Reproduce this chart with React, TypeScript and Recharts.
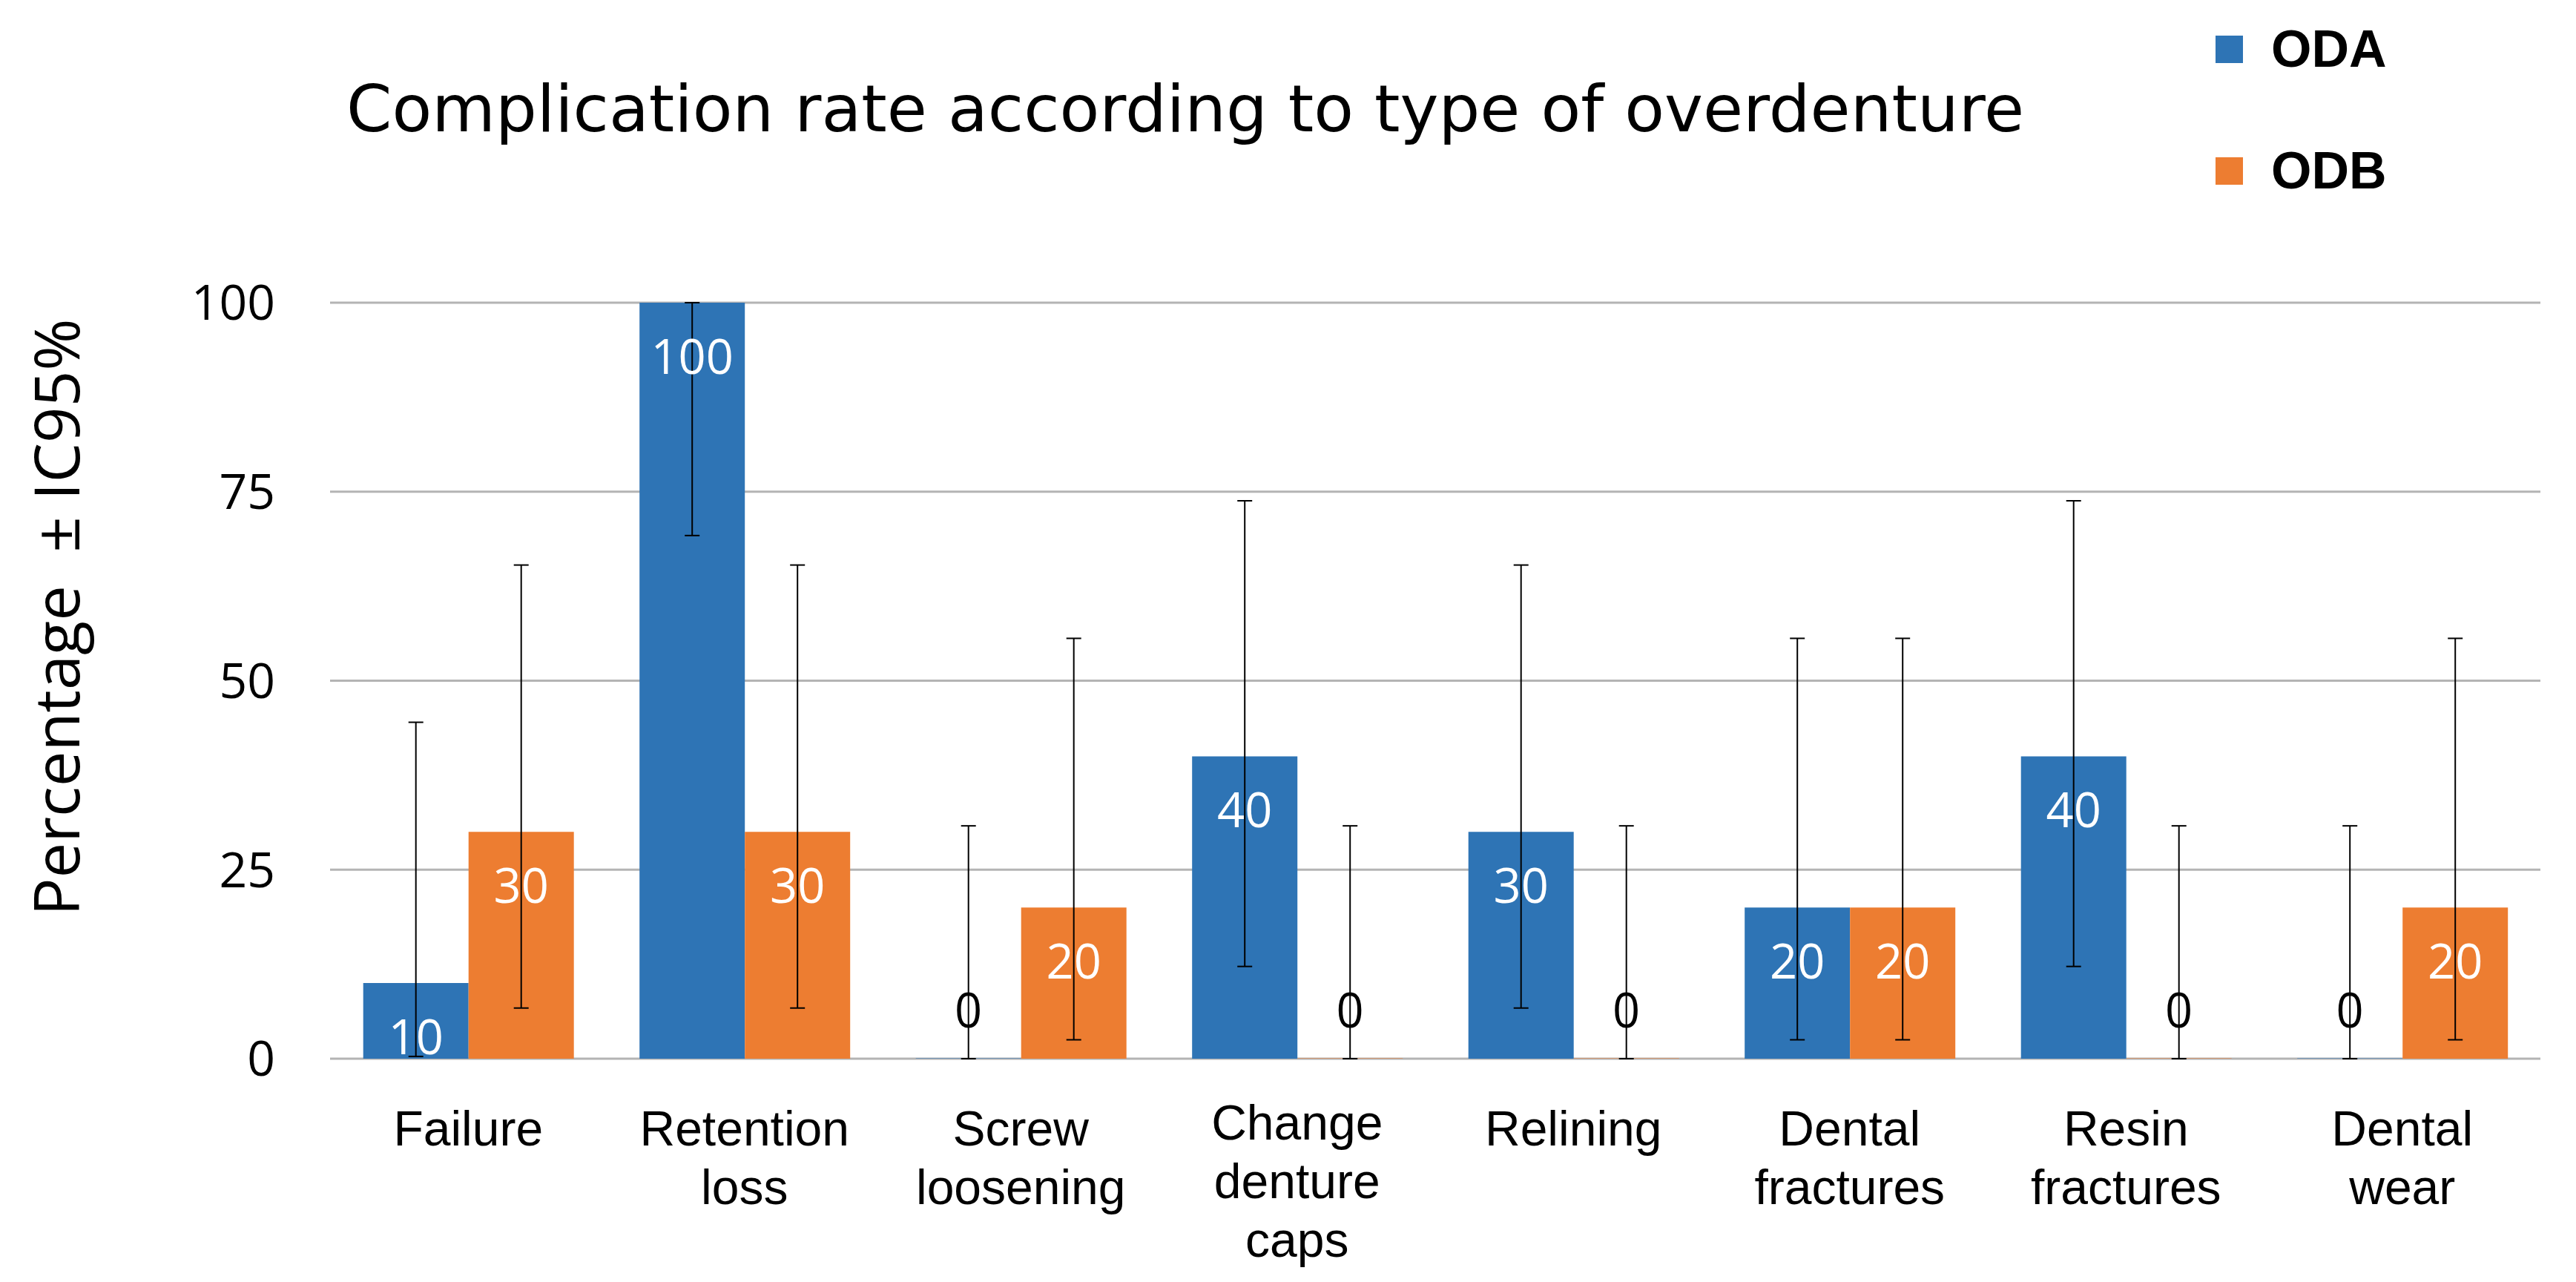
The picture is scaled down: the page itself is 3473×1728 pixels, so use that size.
import { Bar, BarChart, CartesianGrid, ErrorBar, LabelList, Legend, XAxis, YAxis } from "recharts";

const categories = [
  "Failure",
  "Retention\nloss",
  "Screw\nloosening",
  "Change\ndenture\ncaps",
  "Relining",
  "Dental\nfractures",
  "Resin\nfractures",
  "Dental\nwear",
];

const odaValues = [10, 100, 0, 40, 30, 20, 40, 0];
const odaLow = [0.3, 69.2, 0, 12.2, 6.7, 2.5, 12.2, 0];
const odaHigh = [44.5, 100, 30.8, 73.8, 65.3, 55.6, 73.8, 30.8];

const odbValues = [30, 30, 20, 0, 0, 20, 0, 20];
const odbLow = [6.7, 6.7, 2.5, 0, 0, 2.5, 0, 2.5];
const odbHigh = [65.3, 65.3, 55.6, 30.8, 30.8, 55.6, 30.8, 55.6];

const yTicks = [0, 25, 50, 75, 100];

const ODA_COLOR = "#2E74B5";
const ODB_COLOR = "#ED7D31";
const SANS = "'Open Sans', 'Noto Sans', sans-serif";
const ARIAL = "'Liberation Sans', Arial, sans-serif";

const data = categories.map((name, i) => ({
  name,
  oda: odaValues[i],
  odb: odbValues[i],
  odaErr: [odaValues[i] - odaLow[i], odaHigh[i] - odaValues[i]],
  odbErr: [odbValues[i] - odbLow[i], odbHigh[i] - odbValues[i]],
}));

const legendItems = [
  { label: "ODA", color: ODA_COLOR },
  { label: "ODB", color: ODB_COLOR },
];

interface TickProps {
  x?: number;
  y?: number;
  payload?: { value: string };
}

function CategoryTick({ x = 0, y = 0, payload }: TickProps) {
  const lines = (payload?.value ?? "").split("\n");
  const first = y + 117 - (lines.length > 2 ? 8 : 0);
  return (
    <text x={x} y={first} textAnchor="middle" fontFamily={ARIAL} fontSize={66} fill="#000">
      {lines.map((line, i) => (
        <tspan key={i} x={x} dy={i === 0 ? 0 : 79}>
          {line}
        </tspan>
      ))}
    </text>
  );
}

interface Box {
  x?: number | string;
  y?: number | string;
  width?: number | string;
  height?: number | string;
}

interface ValueLabelProps extends Box {
  value?: number | string;
  viewBox?: Box;
}

function ValueLabel(props: ValueLabelProps) {
  const vb = props.viewBox ?? {};
  const x = Number(props.x ?? vb.x ?? 0);
  const width = Number(props.width ?? vb.width ?? 0);
  const y = Number(props.y ?? vb.y ?? 0);
  const height = Number(props.height ?? vb.height ?? 0);
  const zero = Number(props.value) === 0;
  // zero bars: label sits above the baseline, in black
  const top = Math.min(y, y + height);
  const bottom = Math.max(y, y + height);
  return (
    <text
      x={x + width / 2}
      y={zero ? bottom - 67 : top + 71}
      textAnchor="middle"
      dominantBaseline="central"
      fontFamily={SANS}
      fontSize={65}
      fill={zero ? "#000" : "#fff"}
    >
      {String(props.value)}
    </text>
  );
}

function LegendBox() {
  return (
    <div>
      {legendItems.map((item) => (
        <div key={item.label} style={{ display: "flex", alignItems: "center", height: 50, marginBottom: 114 }}>
          <span style={{ width: 37, height: 37, background: item.color, display: "inline-block" }} />
          <span
            style={{
              marginLeft: 38,
              fontFamily: ARIAL,
              fontWeight: "bold",
              fontSize: 70,
              lineHeight: "50px",
              color: "#000",
            }}
          >
            {item.label}
          </span>
        </div>
      ))}
    </div>
  );
}

const zeroPoint = (value: unknown) => (Number(value) === 0 ? 0.5 : 0);

export default function App() {
  return (
    <div style={{ position: "absolute", left: 0, top: 0, background: "#fff" }}>
      <BarChart
        width={3473}
        height={1728}
        data={data}
        margin={{ top: 408, right: 48, left: 0, bottom: 0 }}
        barCategoryGap="12%"
        barGap={0}
      >
        <text
          x={467}
          y={177}
          fontFamily="'DejaVu Sans', Verdana, sans-serif"
          fontSize={88}
          fill="#000"
          textLength={2262}
          lengthAdjust="spacingAndGlyphs"
        >
          Complication rate according to type of overdenture
        </text>
        <text
          transform="translate(107, 832) rotate(-90)"
          textAnchor="middle"
          fontFamily={SANS}
          fontSize={85}
          fill="#000"
          style={{ whiteSpace: "pre" }}
        >
          {"Percentage  ± IC95%"}
        </text>
        <CartesianGrid horizontal vertical={false} stroke="#b4b4b4" strokeWidth={3} />
        <XAxis
          dataKey="name"
          height={301}
          axisLine={false}
          tickLine={false}
          tickSize={0}
          tickMargin={0}
          interval={0}
          tick={<CategoryTick />}
        />
        <YAxis
          width={445}
          domain={[0, 100]}
          ticks={yTicks}
          axisLine={false}
          tickLine={false}
          tickSize={0}
          tickMargin={74}
          tick={{ fill: "#000", fontSize: 66, fontFamily: SANS }}
        />
        <Legend
          layout="vertical"
          align="center"
          verticalAlign="middle"
          wrapperStyle={{ top: 41, left: 2987, width: 300 }}
          content={<LegendBox />}
        />
        <Bar dataKey="oda" name="ODA" fill={ODA_COLOR} minPointSize={zeroPoint} isAnimationActive={false}>
          <ErrorBar dataKey="odaErr" width={10} stroke="#000" strokeWidth={2} direction="y" />
          <LabelList dataKey="oda" content={<ValueLabel />} />
        </Bar>
        <Bar dataKey="odb" name="ODB" fill={ODB_COLOR} minPointSize={zeroPoint} isAnimationActive={false}>
          <ErrorBar dataKey="odbErr" width={10} stroke="#000" strokeWidth={2} direction="y" />
          <LabelList dataKey="odb" content={<ValueLabel />} />
        </Bar>
      </BarChart>
    </div>
  );
}
